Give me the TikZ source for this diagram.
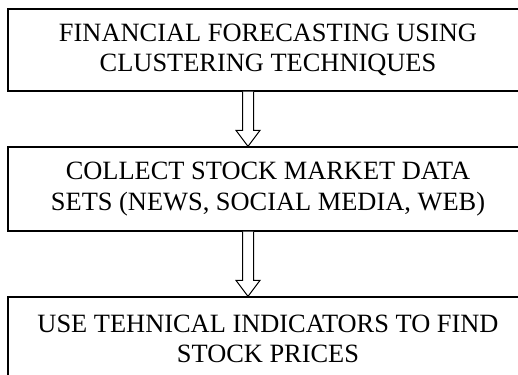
\documentclass[tikz,border=0pt]{standalone}
\usepackage{fontspec}
\setmainfont{Liberation Serif}
\usetikzlibrary{calc}
\begin{document}
\begin{tikzpicture}[x=1pt,y=-1pt,
  stagebox/.style={draw, line width=1.3pt, minimum width=520pt, inner sep=0pt,
    align=center, font=\fontsize{26.4}{30.4}\selectfont},
  hollowarrow/.style={draw, line width=1pt, fill=white, line join=miter}]
  \useasboundingbox (0,0) rectangle (518,374);
  \clip (0,0) rectangle (518,374);

  % three stages of the process
  \node[stagebox, minimum height=82pt] (b1) at (268,50)
    {FINANCIAL FORECASTING USING\\CLUSTERING TECHNIQUES};
  \node[stagebox, minimum height=84pt] (b2) at (268,189)
    {COLLECT STOCK MARKET DATA\\SETS (NEWS, SOCIAL MEDIA, WEB)};
  \node[stagebox, minimum height=84pt] (b3) at (268,339)
    {USE TEHNICAL INDICATORS TO FIND\\STOCK PRICES};

  % axis of the hollow block arrows
  \coordinate (ax) at (248,0);

  % hollow block arrow from b1 to b2
  \draw[hollowarrow]
    ($(b1.south -| ax)+(-5.5,0)$) -- ($(b2.north -| ax)+(-5.5,-16)$)
    -- ($(b2.north -| ax)+(-12,-16)$) -- (b2.north -| ax)
    -- ($(b2.north -| ax)+(12,-16)$) -- ($(b2.north -| ax)+(5.5,-16)$)
    -- ($(b1.south -| ax)+(5.5,0)$);

  % hollow block arrow from b2 to b3
  \draw[hollowarrow]
    ($(b2.south -| ax)+(-5.5,0)$) -- ($(b3.north -| ax)+(-5.5,-16)$)
    -- ($(b3.north -| ax)+(-12,-16)$) -- (b3.north -| ax)
    -- ($(b3.north -| ax)+(12,-16)$) -- ($(b3.north -| ax)+(5.5,-16)$)
    -- ($(b2.south -| ax)+(5.5,0)$);
\end{tikzpicture}
\end{document}
